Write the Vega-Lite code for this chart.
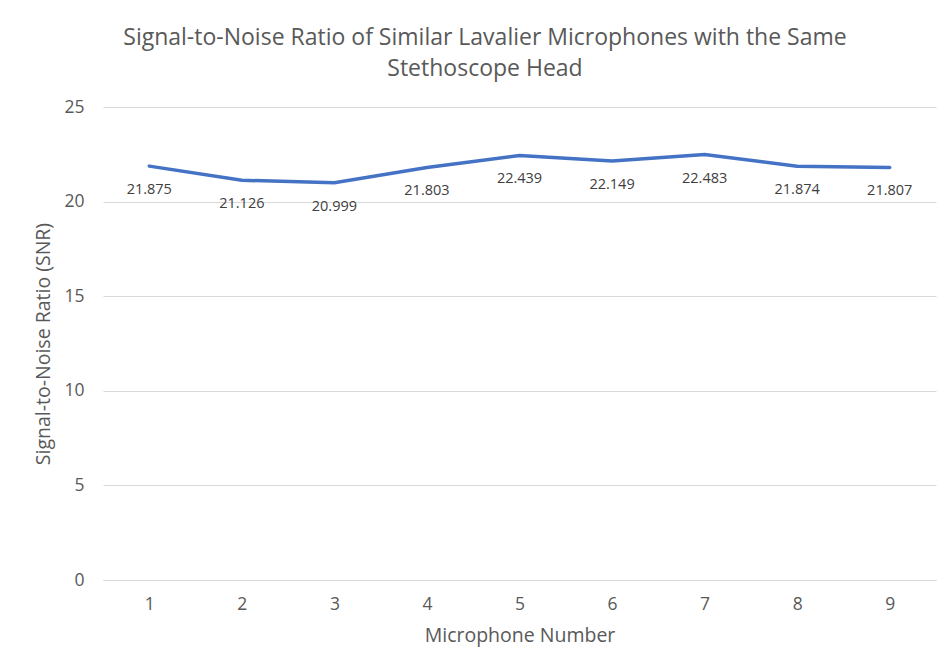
{
  "$schema": "https://vega.github.io/schema/vega-lite/v6.json",
  "width": 833,
  "height": 473,
  "autosize": "none",
  "padding": {"left": 103, "top": 107, "right": 10, "bottom": 91},
  "background": "white",
  "title": {
    "text": ["Signal-to-Noise Ratio of Similar Lavalier Microphones with the Same", "Stethoscope Head"],
    "font": "Open Sans",
    "fontSize": 23,
    "fontWeight": "normal",
    "color": "#595959",
    "lineHeight": 31,
    "anchor": "middle",
    "frame": "bounds",
    "offset": 17
  },
  "config": {
    "view": {"stroke": null},
    "font": "Open Sans"
  },
  "data": {
    "values": [
      {"mic": "1", "snr": 21.875},
      {"mic": "2", "snr": 21.126},
      {"mic": "3", "snr": 20.999},
      {"mic": "4", "snr": 21.803},
      {"mic": "5", "snr": 22.439},
      {"mic": "6", "snr": 22.149},
      {"mic": "7", "snr": 22.483},
      {"mic": "8", "snr": 21.874},
      {"mic": "9", "snr": 21.807}
    ]
  },
  "encoding": {
    "x": {
      "field": "mic",
      "type": "ordinal",
      "scale": {"type": "point", "padding": 0.5},
      "axis": {
        "title": "Microphone Number",
        "labelAngle": 0,
        "labelFontSize": 17.5,
        "labelColor": "#595959",
        "labelPadding": 15,
        "titleFontSize": 19.5,
        "titleFontWeight": "normal",
        "titleColor": "#595959",
        "titlePadding": 14,
        "domain": true,
        "domainColor": "#d9d9d9",
        "domainWidth": 1,
        "ticks": false,
        "grid": false
      }
    },
    "y": {
      "field": "snr",
      "type": "quantitative",
      "scale": {"domain": [0, 25]},
      "axis": {
        "title": "Signal-to-Noise Ratio (SNR)",
        "values": [0, 5, 10, 15, 20, 25],
        "labelFontSize": 17.5,
        "labelColor": "#595959",
        "labelPadding": 19,
        "titleFontSize": 19.5,
        "titleFontWeight": "normal",
        "titleColor": "#595959",
        "titlePadding": 10,
        "domain": false,
        "ticks": false,
        "gridColor": "#d9d9d9",
        "gridWidth": 1
      }
    }
  },
  "layer": [
    {
      "mark": {"type": "line", "color": "#4472C4", "strokeWidth": 3.5, "strokeCap": "round"}
    },
    {
      "mark": {"type": "text", "dy": 24, "fontSize": 14.5, "color": "#404040", "baseline": "middle"},
      "encoding": {"text": {"field": "snr", "type": "quantitative", "format": ".3f"}}
    }
  ]
}
